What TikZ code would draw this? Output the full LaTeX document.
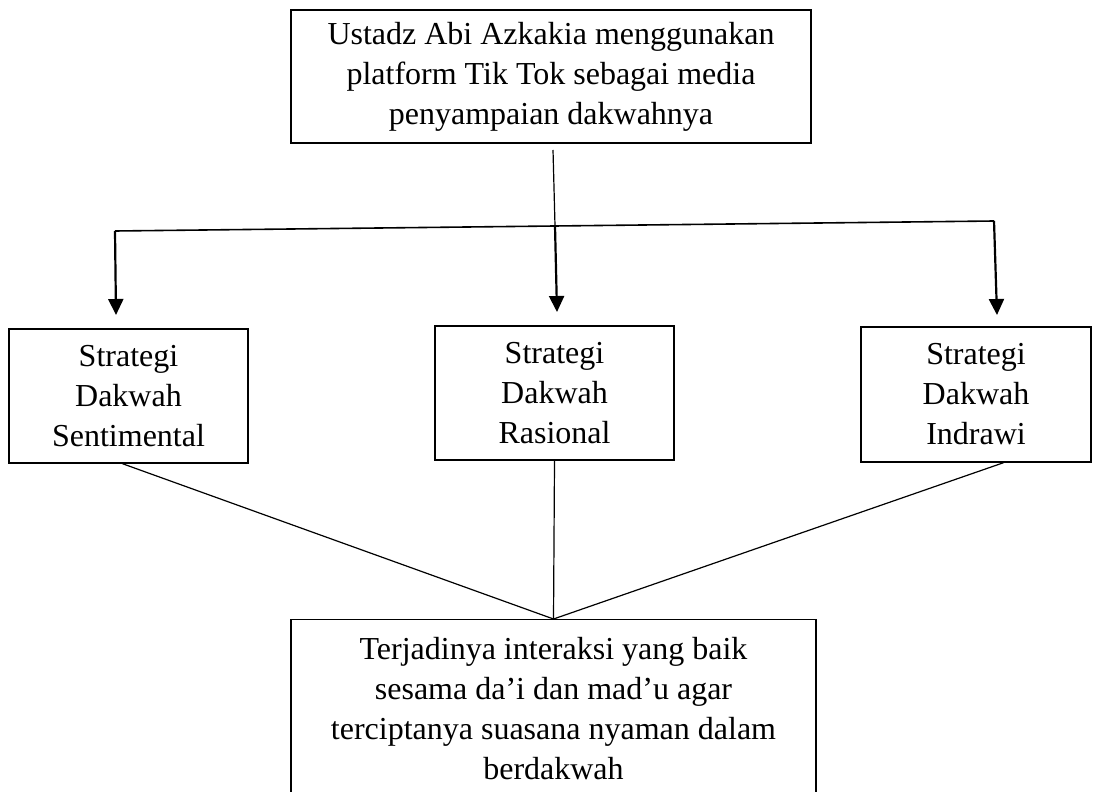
\documentclass[tikz,border=0pt]{standalone}
\usepackage{fontspec}
\setmainfont{Liberation Serif}
\usepackage{tikz}
\usetikzlibrary{arrows.meta, positioning, calc}

\begin{document}
\begin{tikzpicture}[
            x=0.5pt, y=-0.5pt,
            box/.style={rectangle, draw=black, line width=0.7pt, inner sep=0pt, align=center, font=\fontsize{16pt}{20pt}\selectfont},
            link/.style={line width=0.6pt},
            pointer/.style={line width=1.1pt, -{Triangle[width=7.5pt, length=8pt]}}
        ]
            \clip (0,0) rectangle (1095,791);

            % MEDIA
            \node[box, minimum width=260pt, minimum height=66.5pt] (media) at (551,76.5) {
                Ustadz Abi Azkakia menggunakan\\
                platform Tik Tok sebagai media\\
                penyampaian dakwahnya
            };

            % STRATEGI
            \node[box, minimum width=119.5pt, minimum height=67pt] (sentimental) at (128.5,396) {
                Strategi\\ Dakwah\\ Sentimental
            };
            \node[box, minimum width=119.5pt, minimum height=67pt] (rasional) at (554.5,393) {
                Strategi\\ Dakwah\\ Rasional
            };
            \node[box, minimum width=115pt, minimum height=67.5pt] (indrawi) at (976,394.5) {
                Strategi\\ Dakwah\\ Indrawi
            };

            % HASIL
            \node[box, anchor=north, minimum width=262.5pt, inner ysep=9pt] (hasil) at (553.5,619) {
                Terjadinya interaksi yang baik\\
                sesama da’i dan mad’u agar\\
                terciptanya suasana nyaman dalam\\
                berdakwah
            };

            % Cabang
            \coordinate (stem) at (553,150);
            \coordinate (busL) at (115,231);
            \coordinate (busM) at (555,226);
            \coordinate (busR) at (994,221);
            \coordinate (tipL) at (116,315);
            \coordinate (tipM) at (557,312);
            \coordinate (tipR) at (997,315);

            \draw[link] (stem) -- (busM);
            \draw[line width=0.8pt] (busL) -- (busR);
            \draw[pointer] (busL) -- (tipL);
            \draw[pointer] (busM) -- (tipM);
            \draw[pointer] (busR) -- (tipR);

            % Menuju hasil
            \draw[link] ([xshift=-3pt]sentimental.south) -- (hasil.north);
            \draw[link] (rasional.south) -- (hasil.north);
            \draw[link] ([xshift=13.75pt]indrawi.south) -- (hasil.north);
        \end{tikzpicture}
\end{document}
